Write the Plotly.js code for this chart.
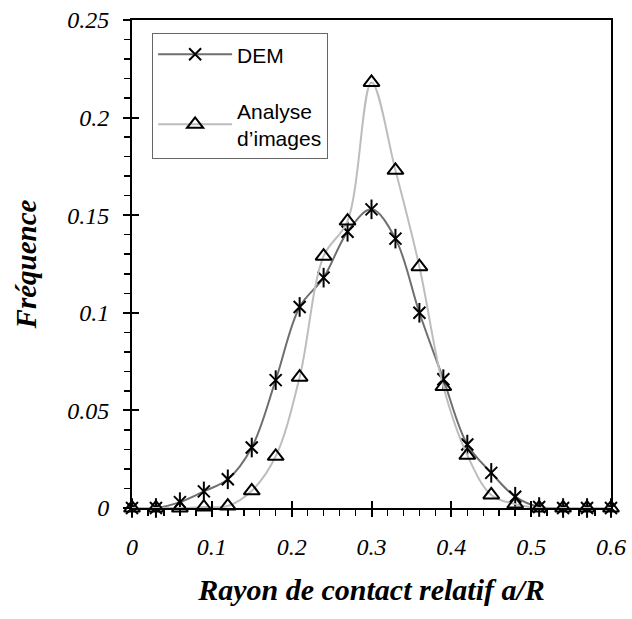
<!DOCTYPE html>
<html>
<head>
<meta charset="utf-8">
<script src="https://cdn.plot.ly/plotly-3.0.1.min.js"></script>
<style>html,body{margin:0;padding:0;background:#fff;}</style>
</head>
<body>
<div id="chart" style="width:632px;height:619px;"></div>
<script>
// Relative contact radius a/R
const rayon = [0, 0.03, 0.06, 0.09, 0.12, 0.15, 0.18, 0.21, 0.24, 0.27, 0.30,
               0.33, 0.36, 0.39, 0.42, 0.45, 0.48, 0.51, 0.54, 0.57, 0.60];
// Frequencies - DEM
const freqDEM = [0, 0, 0.003, 0.0085, 0.0147, 0.031, 0.0655, 0.103, 0.118, 0.1415, 0.153,
                 0.138, 0.100, 0.066, 0.0325, 0.018, 0.0058, 0.0005, 0, 0, 0];
// Frequencies - Analyse d'images
const freqImg = [0, 0, 0, 0.0005, 0.001, 0.0088, 0.0265, 0.067, 0.129, 0.147, 0.218,
                 0.173, 0.1236, 0.0622, 0.027, 0.0067, 0.002, 0, 0, 0, 0];
const xTickVals = [0, 0.1, 0.2, 0.3, 0.4, 0.5, 0.6];
const yTickVals = [0, 0.05, 0.1, 0.15, 0.2, 0.25];
const nameDEM = 'DEM';
const nameImg = 'Analyse<br>d\u2019images';
const xTitle = 'Rayon de contact relatif a/R';
const yTitle = 'Fr\u00e9quence';

const serif = 'Liberation Serif, Times New Roman, serif';
const sans = 'Liberation Sans, Arial, sans-serif';

const traces = [
  {
    x: rayon, y: freqDEM, name: nameDEM, legendgroup: 'dem',
    type: 'scatter', mode: 'lines+markers', cliponaxis: false,
    line: {color: '#6f6f6f', width: 2, shape: 'spline', smoothing: 1},
    marker: {symbol: 'x-thin-open', size: 12, color: '#000', line: {color: '#000', width: 2}}
  },
  {
    x: rayon, y: freqDEM, name: nameDEM, legendgroup: 'dem', showlegend: false,
    type: 'scatter', mode: 'markers', cliponaxis: false, hoverinfo: 'skip',
    marker: {symbol: 'line-ns-open', size: 14, color: '#000', line: {color: '#000', width: 2}}
  },
  {
    x: rayon, y: freqImg, name: nameImg, legendgroup: 'img',
    type: 'scatter', mode: 'lines+markers', cliponaxis: false,
    line: {color: '#bdbdbd', width: 2, shape: 'spline', smoothing: 1},
    marker: {symbol: 'triangle-up-open', size: 14, color: '#000', line: {color: '#000', width: 2}}
  },
  {
    x: [], y: [], xaxis: 'x2', yaxis: 'y2', showlegend: false, hoverinfo: 'skip',
    type: 'scatter', mode: 'markers'
  }
];

const layout = {
  width: 632, height: 619,
  margin: {l: 132, r: 21, t: 20, b: 111},
  paper_bgcolor: '#fff', plot_bgcolor: '#fff',
  showlegend: true,
  legend: {
    x: 0.042, y: 0.973, xanchor: 'left', yanchor: 'top',
    bgcolor: '#fff', bordercolor: '#666', borderwidth: 1,
    font: {family: sans, size: 21, color: '#000'},
    itemwidth: 74, tracegroupgap: 26, valign: 'middle'
  },
  xaxis: {
    range: [0, 0.6], tickvals: xTickVals, ticks: 'outside', ticklen: 7, tickwidth: 2,
    tickcolor: '#000', showline: true, linewidth: 2, linecolor: '#000', mirror: true,
    showgrid: false, zeroline: false, ticklabelstandoff: 9,
    minor: {dtick: 0.02, ticks: 'outside', ticklen: 6, tickwidth: 1.5, tickcolor: '#000', showgrid: false},
    tickfont: {family: serif, size: 24, style: 'italic', color: '#000'},
    title: {text: xTitle, standoff: 20, font: {family: serif, size: 30, weight: 'bold', style: 'italic', color: '#000'}}
  },
  yaxis: {
    range: [0, 0.25], tickvals: yTickVals, ticks: 'outside', ticklen: 7, tickwidth: 2,
    tickcolor: '#000', showline: true, linewidth: 2, linecolor: '#000', mirror: true,
    showgrid: false, zeroline: false, ticklabelstandoff: 9,
    minor: {dtick: 0.01, ticks: 'outside', ticklen: 6, tickwidth: 1.5, tickcolor: '#000', showgrid: false},
    tickfont: {family: serif, size: 24, style: 'italic', color: '#000'},
    title: {text: yTitle, standoff: 22, font: {family: serif, size: 29, weight: 'bold', style: 'italic', color: '#000'}}
  },
  xaxis2: {
    overlaying: 'x', anchor: 'y2', range: [0, 0.6], tickvals: xTickVals,
    ticks: 'inside', ticklen: 7, tickwidth: 2, tickcolor: '#000',
    showticklabels: false, showline: false, showgrid: false, zeroline: false
  },
  yaxis2: {
    overlaying: 'y', anchor: 'x2', range: [0, 0.25], tickvals: yTickVals,
    ticks: 'inside', ticklen: 7, tickwidth: 2, tickcolor: '#000',
    showticklabels: false, showline: false, showgrid: false, zeroline: false
  }
};

Plotly.newPlot('chart', traces, layout, {displayModeBar: false, staticPlot: true});
</script>
</body>
</html>
